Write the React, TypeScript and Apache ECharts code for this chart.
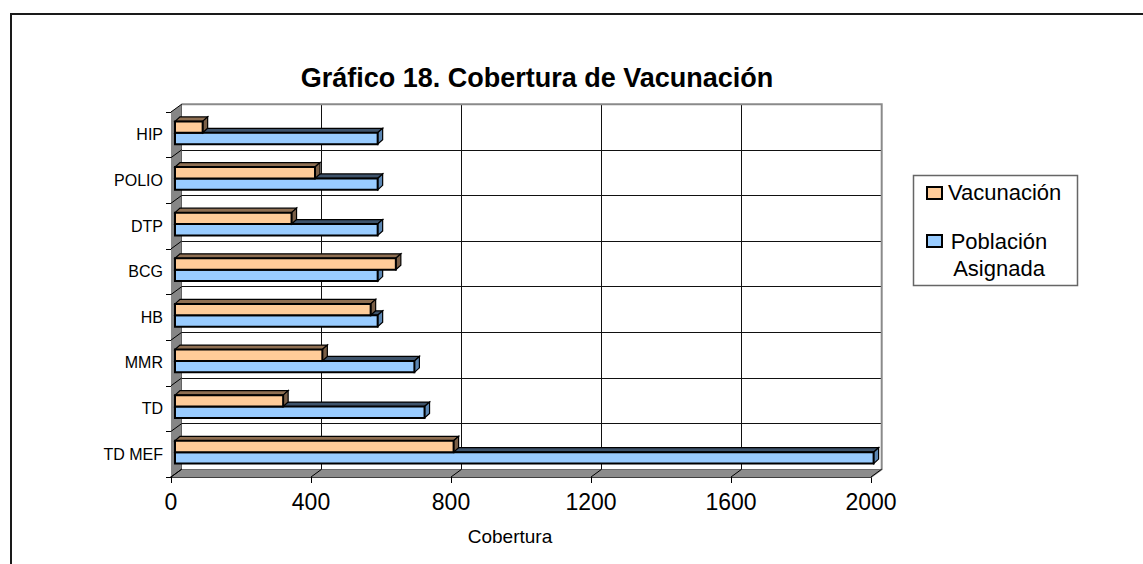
import React, { useEffect, useRef } from 'react';
import * as echarts from 'echarts';

const categories = ['TD MEF', 'TD', 'MMR', 'HB', 'BCG', 'DTP', 'POLIO', 'HIP'];
const vacunacion = [796, 309, 421, 559, 631, 333, 400, 79];
const poblacionAsignada = [1996, 713, 684, 579, 579, 579, 579, 579];
const xTicks = [0, 400, 800, 1200, 1600, 2000];
const seriesNames = ['Vacunación', 'Población Asignada'];
const legendLines = ['Vacunación', 'Población\nAsignada'];
const titleText = 'Gráfico 18. Cobertura de Vacunación';
const axisName = 'Cobertura';

const FONT = '"Liberation Sans", Arial, Helvetica, sans-serif';
const GRID = { left: 171, top: 112, width: 700, height: 365 };
const DEPTH = [10.7, -7.8];
const FACE = [4, -2];
const BAR_DEPTH = [5, -4.5];

const ORANGE = { front: '#FFCC99', top: '#8f6f52', side: '#7a5f47' };
const BLUE = { front: '#99CCFF', top: '#3e536b', side: '#5b86b3' };

function makeBarRenderer(pos: 'upper' | 'lower', colors: { front: string; top: string; side: string }) {
  return (params: any, api: any) => {
    const val = api.value(0);
    const cat = api.value(1);
    const end = api.coord([val, cat]);
    const start = api.coord([0, cat]);
    const band = api.size([0, 1])[1];
    const bh = band * 0.25;
    const x1 = start[0] + FACE[0];
    const x2 = end[0] + FACE[0];
    const yc = end[1] + FACE[1];
    const yt = pos === 'upper' ? yc - bh : yc;
    const bx = BAR_DEPTH[0];
    const by = BAR_DEPTH[1];
    return {
      type: 'group',
      children: [
        {
          type: 'polygon',
          shape: { points: [[x1, yt], [x1 + bx, yt + by], [x2 + bx, yt + by], [x2, yt]] },
          style: { fill: colors.top, stroke: '#000', lineWidth: 1.2 },
        },
        {
          type: 'polygon',
          shape: { points: [[x2, yt], [x2 + bx, yt + by], [x2 + bx, yt + bh + by], [x2, yt + bh]] },
          style: { fill: colors.side, stroke: '#000', lineWidth: 1.2 },
        },
        {
          type: 'rect',
          shape: { x: x1, y: yt, width: x2 - x1, height: bh },
          style: { fill: colors.front, stroke: '#000', lineWidth: 2 },
        },
      ],
    };
  };
}

const renderWalls = (params: any, api: any) => {
  const cs = params.coordSys;
  const x0 = cs.x;
  const y0 = cs.y;
  const w = cs.width;
  const h = cs.height;
  const dx = DEPTH[0];
  const dy = DEPTH[1];
  const children: any[] = [];
  children.push({
    type: 'polygon',
    shape: { points: [[x0, y0], [x0 + dx, y0 + dy], [x0 + dx, y0 + h + dy], [x0, y0 + h]] },
    style: { fill: '#868686' },
  });
  children.push({
    type: 'polygon',
    shape: { points: [[x0, y0 + h], [x0 + dx, y0 + h + dy], [x0 + w + dx, y0 + h + dy], [x0 + w, y0 + h]] },
    style: { fill: '#8c8c8c' },
  });
  children.push({
    type: 'polyline',
    shape: { points: [[x0 + dx, y0 + dy], [x0 + w + dx, y0 + dy], [x0 + w + dx, y0 + h + dy], [x0 + w, y0 + h]] },
    style: { fill: 'none', stroke: '#8a8a8a', lineWidth: 2 },
  });
  xTicks.forEach((v) => {
    const px = api.coord([v, 0])[0];
    children.push({
      type: 'line',
      shape: { x1: px, y1: y0 + h, x2: px + dx, y2: y0 + h + dy },
      style: { stroke: '#000', lineWidth: 1 },
    });
  });
  const n = categories.length;
  for (let i = 0; i <= n; i++) {
    const py = y0 + (h * i) / n;
    children.push({
      type: 'line',
      shape: { x1: x0, y1: py, x2: x0 + dx, y2: py + dy },
      style: { stroke: '#000', lineWidth: 1 },
    });
  }
  return { type: 'group', children };
};

export default function App() {
  const ref = useRef<HTMLDivElement>(null);
  useEffect(() => {
    if (!ref.current) return;
    const chart = echarts.init(ref.current, undefined, { renderer: 'svg' });
    const option: any = {
      animation: false,
      textStyle: { fontFamily: FONT },
      grid: [
        { left: GRID.left, top: GRID.top, width: GRID.width, height: GRID.height },
        { left: GRID.left + DEPTH[0], top: GRID.top + DEPTH[1], width: GRID.width, height: GRID.height },
      ],
      xAxis: [
        {
          type: 'value',
          gridIndex: 0,
          min: 0,
          max: 2000,
          interval: 400,
          axisLine: { show: true, lineStyle: { color: '#000', width: 1.5 } },
          axisTick: { show: true, length: 6, lineStyle: { color: '#000' } },
          axisLabel: {
            fontSize: 23,
            color: '#000',
            margin: 13,
            fontFamily: FONT,
            formatter: (v: number) => String(v),
          },
          splitLine: { show: false },
          name: axisName,
          nameLocation: 'middle',
          nameGap: 50,
          nameTextStyle: { fontSize: 19, color: '#000', fontFamily: FONT, padding: [0, 22, 0, 0] },
        },
        {
          type: 'value',
          gridIndex: 1,
          min: 0,
          max: 2000,
          interval: 400,
          axisLine: { show: false },
          axisTick: { show: false },
          axisLabel: { show: false },
          splitLine: { show: true, lineStyle: { color: '#111', width: 1 } },
        },
      ],
      yAxis: [
        {
          type: 'category',
          gridIndex: 0,
          data: categories,
          axisLine: { show: true, lineStyle: { color: '#000', width: 1 } },
          axisTick: { show: true, length: 5, lineStyle: { color: '#000' } },
          axisLabel: { fontSize: 16, color: '#000', margin: 8, fontFamily: FONT },
          splitLine: { show: false },
        },
        {
          type: 'category',
          gridIndex: 1,
          data: categories,
          axisLine: { show: false },
          axisTick: { show: false },
          axisLabel: { show: false },
          splitLine: { show: true, lineStyle: { color: '#111', width: 1 } },
        },
      ],
      graphic: [
        {
          type: 'rect',
          shape: { x: 11, y: 14, width: 1200, height: 600 },
          style: { fill: 'none', stroke: '#1a1a1a', lineWidth: 2 },
          silent: true,
        },
        {
          type: 'text',
          x: 537,
          y: 78,
          style: {
            text: titleText,
            fontFamily: FONT,
            fontSize: 27,
            fontWeight: 'bold',
            fill: '#000',
            align: 'center',
            verticalAlign: 'middle',
          },
        },
        {
          type: 'rect',
          shape: { x: 913.5, y: 175.5, width: 164, height: 110 },
          style: { fill: '#fff', stroke: '#666', lineWidth: 1.5 },
        },
        {
          type: 'rect',
          shape: { x: 927, y: 187, width: 15, height: 12 },
          style: { fill: ORANGE.front, stroke: '#000', lineWidth: 2 },
        },
        {
          type: 'text',
          x: 948,
          y: 192.5,
          style: {
            text: legendLines[0],
            fontFamily: FONT,
            fontSize: 22,
            fill: '#000',
            align: 'left',
            verticalAlign: 'middle',
          },
        },
        {
          type: 'rect',
          shape: { x: 927, y: 235, width: 15, height: 12 },
          style: { fill: BLUE.front, stroke: '#000', lineWidth: 2 },
        },
        {
          type: 'text',
          x: 999,
          y: 255,
          style: {
            text: legendLines[1],
            fontFamily: FONT,
            fontSize: 22,
            lineHeight: 26.6,
            fill: '#000',
            align: 'center',
            verticalAlign: 'middle',
          },
        },
      ],
      series: [
        {
          type: 'custom',
          name: 'walls',
          xAxisIndex: 0,
          yAxisIndex: 0,
          z: 1,
          silent: true,
          renderItem: renderWalls,
          data: [[0, 0]],
        },
        {
          type: 'custom',
          name: seriesNames[1],
          xAxisIndex: 0,
          yAxisIndex: 0,
          z: 3,
          renderItem: makeBarRenderer('lower', BLUE),
          data: poblacionAsignada.map((v, i) => [v, i]),
          encode: { x: 0, y: 1 },
        },
        {
          type: 'custom',
          name: seriesNames[0],
          xAxisIndex: 0,
          yAxisIndex: 0,
          z: 4,
          renderItem: makeBarRenderer('upper', ORANGE),
          data: vacunacion.map((v, i) => [v, i]),
          encode: { x: 0, y: 1 },
        },
      ],
    };
    chart.setOption(option);
    return () => chart.dispose();
  }, []);
  return (
    <div
      ref={ref}
      style={{ position: 'fixed', left: 0, top: 0, width: 1143, height: 564, background: '#fff' }}
    />
  );
}
